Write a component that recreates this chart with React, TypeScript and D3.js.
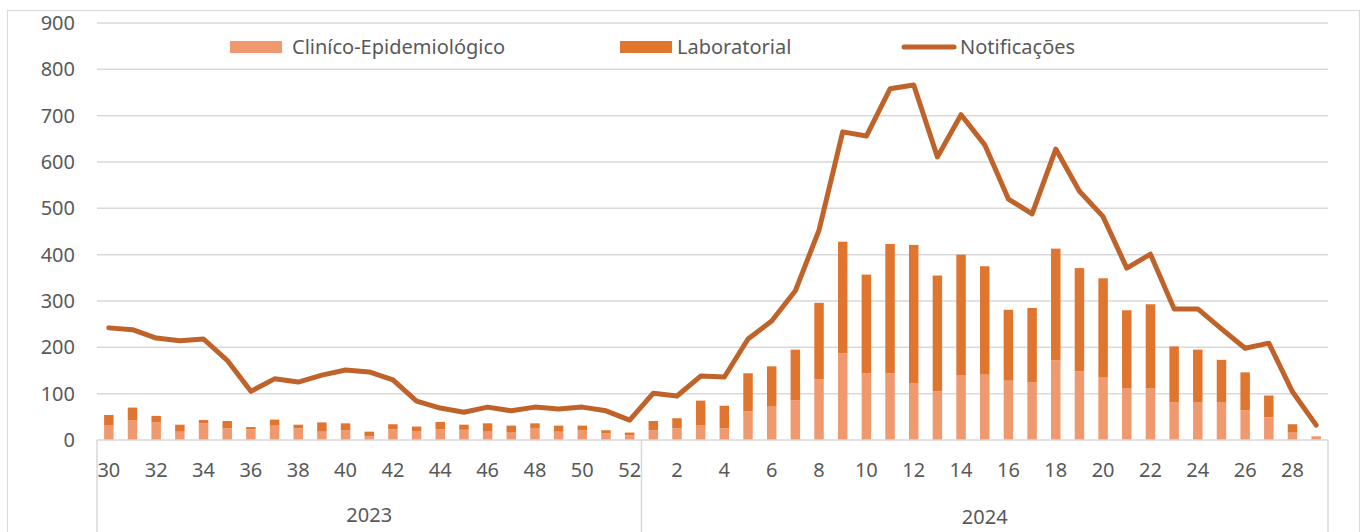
import * as d3 from "d3";

const weeks2023 = [30, 31, 32, 33, 34, 35, 36, 37, 38, 39, 40, 41, 42, 43, 44, 45, 46, 47, 48, 49, 50, 51, 52];
const weeks2024 = [1, 2, 3, 4, 5, 6, 7, 8, 9, 10, 11, 12, 13, 14, 15, 16, 17, 18, 19, 20, 21, 22, 23, 24, 25, 26, 27, 28, 29];
const years = ["2023", "2024"];

const clinico = [
  31, 42, 38, 18, 36, 25, 23, 31, 25, 18, 21, 8, 23, 19, 23, 22, 18, 16, 26, 18, 21, 14, 10,
  21, 25, 31, 25, 62, 72, 86, 131, 187, 144, 144, 122, 105, 139, 141, 128, 124, 172, 148, 136, 111, 111, 81, 82, 82, 64, 49, 16, 8,
];
const laboratorial = [
  23, 28, 14, 15, 7, 16, 5, 13, 8, 20, 15, 10, 11, 10, 16, 11, 18, 15, 10, 13, 10, 7, 6,
  20, 22, 54, 49, 82, 87, 109, 165, 241, 213, 279, 299, 250, 261, 234, 153, 161, 241, 223, 213, 169, 182, 121, 113, 91, 82, 47, 18, 0,
];
const notificacoes = [
  242, 238, 220, 214, 218, 172, 105, 132, 125, 140, 151, 147, 130, 84, 69, 60, 71, 63, 71, 67, 71, 63, 43,
  101, 95, 138, 136, 218, 257, 322, 453, 665, 656, 758, 766, 611, 702, 637, 520, 488, 628, 537, 482, 371, 401, 283, 283, 240, 198, 209, 104, 32,
];
const yTicks = [0, 100, 200, 300, 400, 500, 600, 700, 800, 900];

const W = 1362;
const H = 532;
const left = 97;
const right = 1328;
const top = 23;
const base = 440;
const font = "'Noto Sans', sans-serif";
const textColor = "#595959";
const gridColor = "#D9D9D9";
const cClin = "#F0986E";
const cLab = "#E0752F";
const cLine = "#C0632A";
const fs = 20;

export default function App() {
  const cats = [
    ...weeks2023.map((w) => ({ year: years[0], week: w })),
    ...weeks2024.map((w) => ({ year: years[1], week: w })),
  ];
  const keys = cats.map((c) => `${c.year}-${c.week}`);
  const x = d3.scaleBand<string>().domain(keys).range([left, right]).paddingInner(0.6).paddingOuter(0.3);
  const step = (right - left) / keys.length;
  const cx = (i: number) => (x(keys[i]) as number) + x.bandwidth() / 2;
  const y = d3.scaleLinear().domain([0, 900]).range([base, top]);

  const line = d3
    .line<number>()
    .x((_, i) => cx(i))
    .y((d) => y(d));

  const sepX = left + weeks2023.length * step;

  return (
    <svg width={W} height={H} style={{ position: "absolute", left: 0, top: 0 }} fontFamily={font}>
      <rect x={7.5} y={10.5} width={1352} height={540} fill="#fff" stroke={gridColor} />
      {yTicks.map((t) => (
        <g key={t}>
          {t > 0 && <line x1={left} x2={right} y1={y(t)} y2={y(t)} stroke={gridColor} strokeWidth={1.5} />}
          <text x={75} y={y(t)} dy="0.35em" textAnchor="end" fontSize={fs} fill={textColor}>
            {t}
          </text>
        </g>
      ))}
      {cats.map((c, i) => {
        const bx = x(keys[i]) as number;
        return (
          <g key={keys[i]}>
            <rect x={bx} width={x.bandwidth()} y={y(clinico[i])} height={base - y(clinico[i])} fill={cClin} />
            <rect
              x={bx}
              width={x.bandwidth()}
              y={y(clinico[i] + laboratorial[i])}
              height={y(clinico[i]) - y(clinico[i] + laboratorial[i])}
              fill={cLab}
            />
          </g>
        );
      })}
      <path d={line(notificacoes) ?? ""} fill="none" stroke={cLine} strokeWidth={5} strokeLinejoin="round" strokeLinecap="round" />
      <line x1={left} x2={right} y1={base} y2={base} stroke={gridColor} strokeWidth={1.5} />
      {[left, sepX, right].map((sx) => (
        <line key={sx} x1={sx} x2={sx} y1={base} y2={H} stroke={gridColor} strokeWidth={1.5} />
      ))}
      {cats.map((c, i) =>
        c.week % 2 === 0 ? (
          <text key={"t" + keys[i]} x={cx(i)} y={470} dy="0.35em" textAnchor="middle" fontSize={fs} fill={textColor}>
            {c.week}
          </text>
        ) : null
      )}
      <text x={(left + sepX) / 2} y={515} dy="0.35em" textAnchor="middle" fontSize={fs} fill={textColor}>
        {years[0]}
      </text>
      <text x={(sepX + right) / 2} y={517} dy="0.35em" textAnchor="middle" fontSize={fs} fill={textColor}>
        {years[1]}
      </text>
      <g fontSize={fs} fill={textColor}>
        <rect x={230} y={41} width={52} height={12} fill={cClin} />
        <text x={292} y={47} dy="0.35em">Cliníco-Epidemiológico</text>
        <rect x={620} y={41} width={52} height={12} fill={cLab} />
        <text x={677} y={47} dy="0.35em">Laboratorial</text>
        <line x1={904} x2={954} y1={47} y2={47} stroke={cLine} strokeWidth={5} strokeLinecap="round" />
        <text x={960} y={47} dy="0.35em">Notificações</text>
      </g>
    </svg>
  );
}
